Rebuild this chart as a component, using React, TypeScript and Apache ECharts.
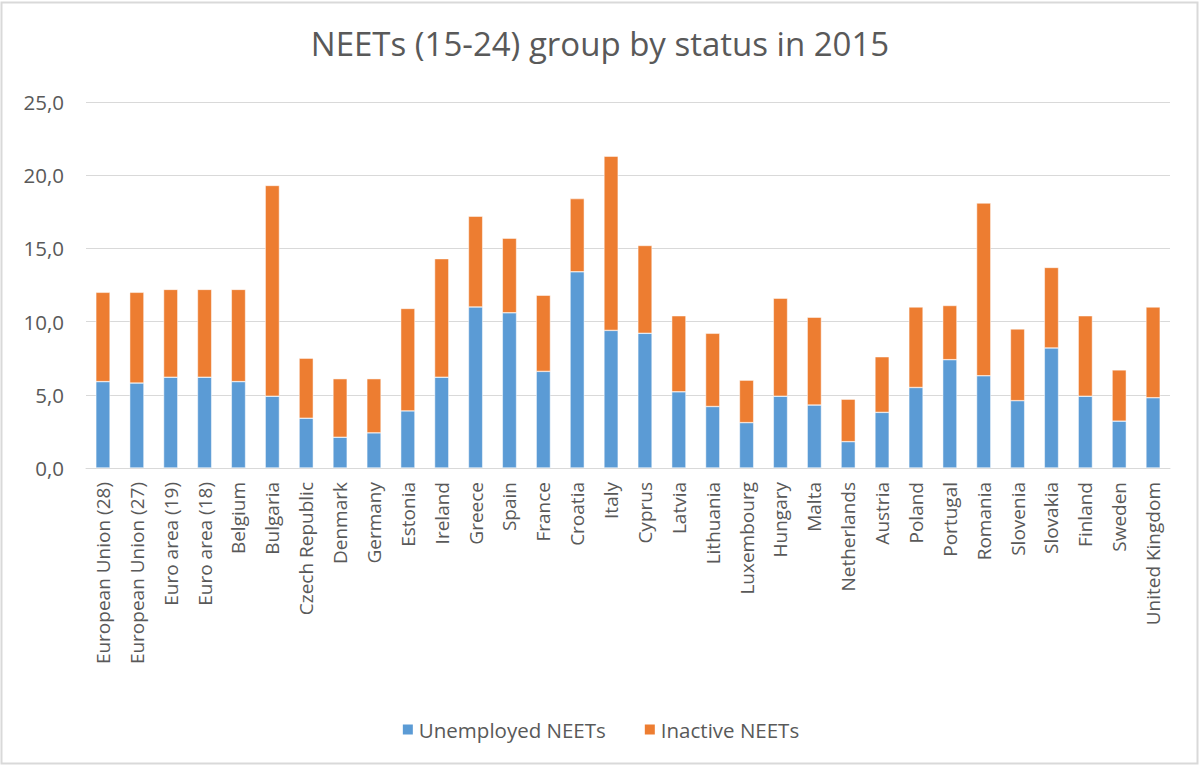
import React, { useEffect, useRef } from "react";
import * as echarts from "echarts";

const categories = [
  "European Union (28)", "European Union (27)", "Euro area (19)", "Euro area (18)",
  "Belgium", "Bulgaria", "Czech Republic", "Denmark", "Germany", "Estonia",
  "Ireland", "Greece", "Spain", "France", "Croatia", "Italy", "Cyprus", "Latvia",
  "Lithuania", "Luxembourg", "Hungary", "Malta", "Netherlands", "Austria",
  "Poland", "Portugal", "Romania", "Slovenia", "Slovakia", "Finland", "Sweden",
  "United Kingdom",
];

const unemployed = [
  5.9, 5.8, 6.2, 6.2, 5.9, 4.9, 3.4, 2.1, 2.4, 3.9,
  6.2, 11.0, 10.6, 6.6, 13.4, 9.4, 9.2, 5.2, 4.2, 3.1,
  4.9, 4.3, 1.8, 3.8, 5.5, 7.4, 6.3, 4.6, 8.2, 4.9, 3.2, 4.8,
];

const inactive = [
  6.1, 6.2, 6.0, 6.0, 6.3, 14.4, 4.1, 4.0, 3.7, 7.0,
  8.1, 6.2, 5.1, 5.2, 5.0, 11.9, 6.0, 5.2, 5.0, 2.9,
  6.7, 6.0, 2.9, 3.8, 5.5, 3.7, 11.8, 4.9, 5.5, 5.5, 3.5, 6.2,
];

const yTicks = [0, 5, 10, 15, 20, 25];

const FONT = "'Open Sans', 'Noto Sans', sans-serif";
const TEXT = "#595959";

export default function App() {
  const ref = useRef<HTMLDivElement>(null);
  useEffect(() => {
    if (!ref.current) return;
    const chart = echarts.init(ref.current, undefined, { renderer: "svg" });
    chart.setOption({
      animation: false,
      backgroundColor: "#ffffff",
      textStyle: { fontFamily: FONT },
      title: {
        text: "NEETs (15-24) group by status in 2015",
        left: "center",
        top: 22,
        textStyle: { fontFamily: FONT, fontSize: 33, fontWeight: "normal", color: TEXT },
      },
      graphic: [
        {
          type: "rect",
          shape: { x: 1.5, y: 2.5, width: 1196, height: 761 },
          style: { fill: "none", stroke: "#d9d9d9", lineWidth: 2 },
          silent: true,
        },
      ],
      legend: {
        top: 714,
        left: "center",
        itemWidth: 12,
        itemHeight: 12,
        itemGap: 37,
        icon: "rect",
        textStyle: { fontFamily: FONT, fontSize: 20.5, color: TEXT },
        data: ["Unemployed NEETs", "Inactive NEETs"],
      },
      grid: { left: 86, right: 30, top: 102, bottom: 297, containLabel: false },
      xAxis: {
        type: "category",
        data: categories,
        axisLine: { lineStyle: { color: "#d9d9d9", width: 1 } },
        axisTick: { show: false },
        axisLabel: {
          interval: 0,
          rotate: 90,
          fontFamily: FONT,
          fontSize: 19,
          color: TEXT,
          margin: 14,
        },
      },
      yAxis: {
        type: "value",
        min: yTicks[0],
        max: yTicks[yTicks.length - 1],
        interval: 5,
        axisLine: { show: false },
        axisTick: { show: false },
        splitLine: { lineStyle: { color: "#d9d9d9", width: 1 } },
        axisLabel: {
          fontFamily: FONT,
          fontSize: 20.5,
          color: TEXT,
          margin: 22,
          formatter: (v: number) => v.toFixed(1).replace(".", ","),
        },
      },
      series: [
        {
          name: "Unemployed NEETs",
          type: "bar",
          stack: "total",
          barWidth: "42%",
          data: unemployed,
          itemStyle: { color: "#5B9BD5", borderColor: "#ffffff", borderWidth: 0.5 },
        },
        {
          name: "Inactive NEETs",
          type: "bar",
          stack: "total",
          barWidth: "42%",
          data: inactive,
          itemStyle: { color: "#ED7D31", borderColor: "#ffffff", borderWidth: 0.5 },
        },
      ],
    });
    return () => chart.dispose();
  }, []);
  return (
    <div
      ref={ref}
      style={{ position: "absolute", left: 0, top: 0, width: 1200, height: 765 }}
    />
  );
}
